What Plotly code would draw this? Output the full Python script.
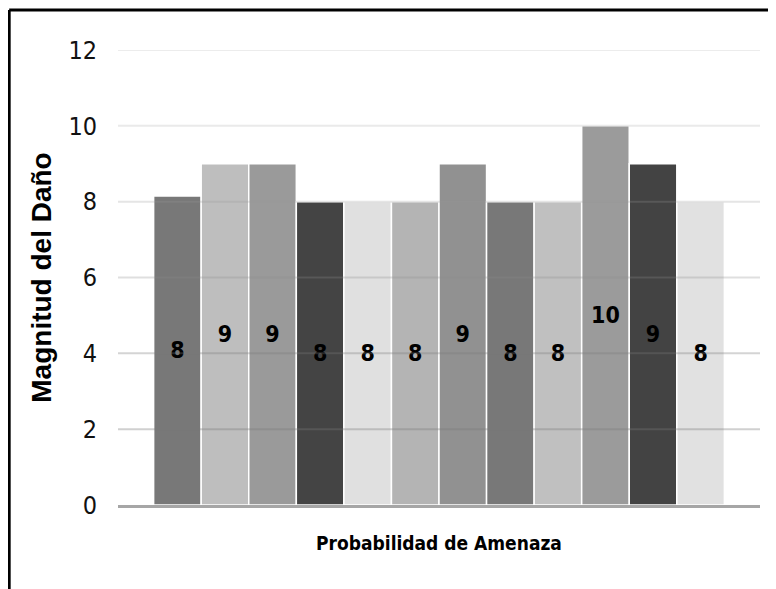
import plotly.graph_objects as go

category = ["Probabilidad de Amenaza"]
series_names = [f"Amenaza {i}" for i in range(1, 13)]
values = [8.15, 9, 9, 8, 8, 8, 9, 8, 8, 10, 9, 8]
labels = ["8", "9", "9", "8", "8", "8", "9", "8", "8", "10", "9", "8"]
colors = ["#787878", "#bebebe", "#9a9a9a", "#444444", "#e0e0e0", "#b4b4b4",
          "#919191", "#787878", "#c0c0c0", "#9b9b9b", "#434343", "#e1e1e1"]
y_ticks = [0, 2, 4, 6, 8, 10, 12]

NARROW = "Liberation Sans Narrow, DejaVu Sans Condensed, Arial Narrow, sans-serif"

fig = go.Figure()
for name, v, lab, c in zip(series_names, values, labels, colors):
    fig.add_trace(go.Bar(
        x=category, y=[v], name=name, text=[lab],
        textposition="inside", insidetextanchor="middle",
        textangle=0,
        textfont=dict(family=NARROW, size=23, color="black", weight="bold"),
        marker=dict(color=c, line=dict(color="white", width=1.5)),
        showlegend=False,
    ))

# light gridlines drawn on top of bars (they show through in the reference)
grid_cols = {2: "rgba(120,120,120,0.35)", 4: "rgba(120,120,120,0.32)",
             6: "rgba(140,140,140,0.28)", 8: "rgba(150,150,150,0.25)",
             10: "rgba(170,170,170,0.25)", 12: "rgba(180,180,180,0.25)"}
for t in y_ticks[1:]:
    fig.add_shape(type="line", xref="paper", yref="y", x0=0, x1=1, y0=t, y1=t,
                  line=dict(color=grid_cols[t], width=2), layer="above")

# outer frame (top and left edges visible in reference)
fig.add_shape(type="line", xref="paper", yref="paper", x0=-0.1695, x1=1.05,
              y0=1.088, y1=1.088, line=dict(color="black", width=3))
fig.add_shape(type="line", xref="paper", yref="paper", x0=-0.1695, x1=-0.1695,
              y0=1.088, y1=-0.21, line=dict(color="black", width=3))

fig.update_layout(
    width=776, height=589,
    margin=dict(l=110, r=24, t=42, b=92),
    paper_bgcolor="white", plot_bgcolor="white",
    barmode="group", bargap=0.111, bargroupgap=0,
    xaxis=dict(
        showticklabels=False, ticks="",
        showline=True, linecolor="#a6a6a6", linewidth=2.5,
        showgrid=False,
        title=dict(text="<b>Probabilidad de Amenaza</b>", standoff=30,
                   font=dict(family=NARROW, size=19, color="black")),
    ),
    yaxis=dict(
        range=[0, 12], tickvals=y_ticks, ticktext=[str(t) for t in y_ticks],
        showgrid=False, zeroline=False, showline=False,
        ticklabelstandoff=20,
        tickfont=dict(family=NARROW, size=25, color="#111111"),
        title=dict(text="<b>Magnitud del Daño</b>", standoff=8,
                   font=dict(family="Liberation Sans, Arial, sans-serif", size=28, color="black")),
    ),
)

fig.write_html("out.html")
